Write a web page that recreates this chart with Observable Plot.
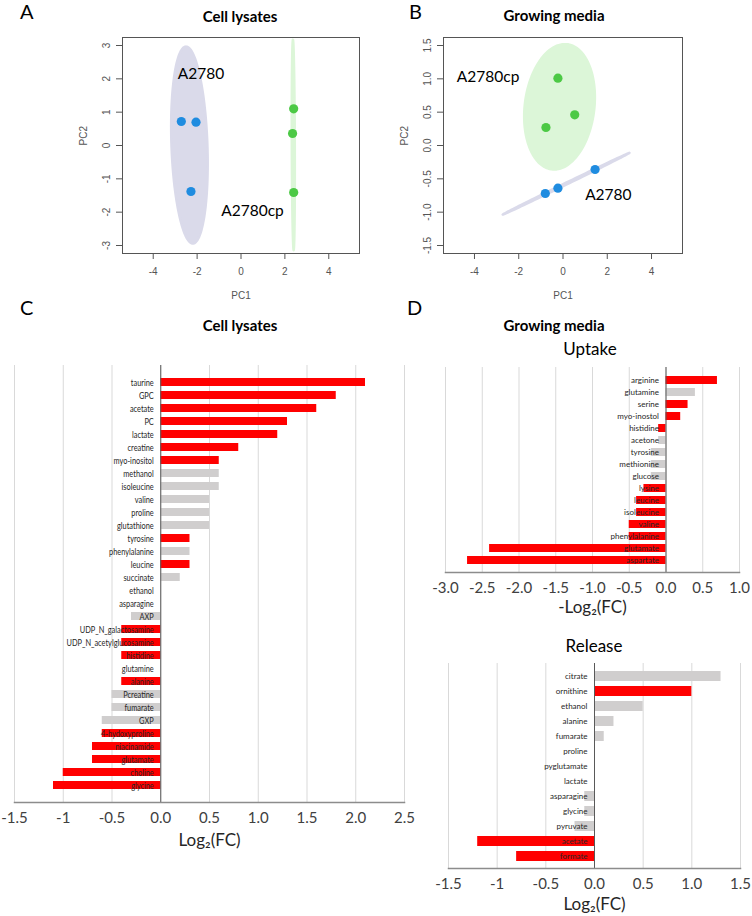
<!DOCTYPE html>
<html>
<head>
<meta charset="utf-8">
<script src="https://cdn.jsdelivr.net/npm/d3@7"></script>
<script src="https://cdn.jsdelivr.net/npm/@observablehq/plot@0.6"></script>
<style>
  html, body { margin: 0; padding: 0; background: white; }
  #fig { position: relative; width: 752px; height: 916px; background: white; overflow: hidden; }
  .abs { position: absolute; }
  .lbl { position: absolute; white-space: nowrap; font-family: Lato, "Open Sans", sans-serif; color: #000; }
</style>
</head>
<body>
<div id="fig"></div>
<script>
// ---------------- DATA ----------------
// Panel A: PCA of cell lysates
const pcaAGroup = ["A2780", "A2780", "A2780", "A2780cp", "A2780cp", "A2780cp"];
const pcaAPC1 = [-2.72, -2.05, -2.28, 2.40, 2.35, 2.40];
const pcaAPC2 = [0.72, 0.70, -1.38, 1.10, 0.36, -1.41];
const pcaALabelText = ["A2780", "A2780cp"];
const pcaALabelPC1 = [-2.88, -0.90];
const pcaALabelPC2 = [2.13, -1.98];
const pcaAXTicks = [-4, -2, 0, 2, 4];
const pcaAXTickLabels = ["-4", "-2", "0", "2", "4"];
const pcaAYTicks = [-3, -2, -1, 0, 1, 2, 3];
const pcaAYTickLabels = ["-3", "-2", "-1", "0", "1", "2", "3"];

// Panel B: PCA of growing media
const pcaBGroup = ["A2780", "A2780", "A2780", "A2780cp", "A2780cp", "A2780cp"];
const pcaBPC1 = [1.45, -0.23, -0.80, -0.23, 0.53, -0.77];
const pcaBPC2 = [-0.36, -0.64, -0.72, 1.01, 0.46, 0.27];
const pcaBLabelText = ["A2780cp", "A2780"];
const pcaBLabelPC1 = [-4.80, 1.00];
const pcaBLabelPC2 = [1.02, -0.74];
const pcaBXTicks = [-4, -2, 0, 2, 4];
const pcaBXTickLabels = ["-4", "-2", "0", "2", "4"];
const pcaBYTicks = [-1.5, -1.0, -0.5, 0.0, 0.5, 1.0, 1.5];
const pcaBYTickLabels = ["-1.5", "-1.0", "-0.5", "0.0", "0.5", "1.0", "1.5"];

// Panel C: cell lysates log2 fold change
const cNames = ["taurine", "GPC", "acetate", "PC", "lactate", "creatine", "myo-inositol", "methanol", "isoleucine", "valine", "proline", "glutathione", "tyrosine", "phenylalanine", "leucine", "succinate", "ethanol", "asparagine", "AXP", "UDP_N_galactosamine", "UDP_N_acetylglucosamine", "histidine", "glutamine", "alanine", "Pcreatine", "fumarate", "GXP", "4-hydoxyproline", "niacinamide", "glutamate", "choline", "glycine"];
const cValues = [2.1, 1.8, 1.6, 1.3, 1.2, 0.8, 0.6, 0.6, 0.6, 0.5, 0.5, 0.5, 0.3, 0.3, 0.3, 0.2, 0, 0, -0.3, -0.4, -0.4, -0.4, 0, -0.4, -0.5, -0.5, -0.6, -0.6, -0.7, -0.7, -1.0, -1.1];
const cSignificant = [1, 1, 1, 1, 1, 1, 1, 0, 0, 0, 0, 0, 1, 0, 1, 0, 0, 0, 0, 1, 1, 1, 0, 1, 0, 0, 0, 1, 1, 1, 1, 1];
const cTicks = [-1.5, -1, -0.5, 0, 0.5, 1, 1.5, 2, 2.5];
const cTickLabels = ["-1.5", "-1", "-0.5", "0.0", "0.5", "1.0", "1.5", "2.0", "2.5"];

// Panel D: growing media - uptake
const uNames = ["arginine", "glutamine", "serine", "myo-inostol", "histidine", "acetone", "tyrosine", "methionine", "glucose", "lysine", "leucine", "isoleucine", "valine", "phenylalanine", "glutamate", "aspartate"];
const uValues = [0.7, 0.4, 0.3, 0.2, -0.1, -0.1, -0.2, -0.2, -0.2, -0.3, -0.4, -0.4, -0.5, -0.5, -2.4, -2.7];
const uSignificant = [1, 0, 1, 1, 1, 0, 0, 0, 0, 1, 1, 1, 1, 1, 1, 1];
const uTicks = [-3, -2.5, -2, -1.5, -1, -0.5, 0, 0.5, 1];
const uTickLabels = ["-3.0", "-2.5", "-2.0", "-1.5", "-1.0", "-0.5", "0.0", "0.5", "1.0"];

// Panel D: growing media - release
const rNames = ["citrate", "ornithine", "ethanol", "alanine", "fumarate", "proline", "pyglutamate", "lactate", "asparagine", "glycine", "pyruvate", "acetate", "formate"];
const rValues = [1.3, 1.0, 0.5, 0.2, 0.1, 0, 0, 0, -0.1, -0.1, -0.2, -1.2, -0.8];
const rSignificant = [0, 1, 0, 0, 0, 0, 0, 0, 0, 0, 0, 1, 1];
const rTicks = [-1.5, -1, -0.5, 0, 0.5, 1, 1.5];
const rTickLabels = ["-1.5", "-1", "-0.5", "0.0", "0.5", "1.0", "1.5"];

// ---------------- HELPERS ----------------
const fig = document.getElementById("fig");
const groupColor = {domain: ["A2780", "A2780cp"], range: ["#1f8ce0", "#4cc945"]};
const ellipseFill = {"A2780": "#dadaea", "A2780cp": "#dcf6d8"};
const barColor = {domain: [1, 0], range: ["#ff0000", "#d0cece"]};

function place(node, left, top) {
  const wrap = document.createElement("div");
  wrap.className = "abs";
  wrap.style.left = left + "px";
  wrap.style.top = top + "px";
  wrap.appendChild(node);
  fig.appendChild(wrap);
}

function textLabel(text, x, baseline, size, weight, anchor) {
  const d = document.createElement("div");
  d.className = "lbl";
  d.textContent = text;
  d.style.fontSize = size + "px";
  d.style.lineHeight = size + "px";
  d.style.fontWeight = weight || 400;
  d.style.top = (baseline - 0.887 * size) + "px";
  d.style.left = x + "px";
  if (anchor === "middle") d.style.transform = "translateX(-50%)";
  fig.appendChild(d);
}

// horizontally condense the texts of one text mark (keeps each anchor point fixed)
function condense(svg, groupIndex, sx) {
  const groups = svg.querySelectorAll('g[aria-label="text"]');
  const g = groups[groupIndex];
  if (!g) return;
  g.querySelectorAll("text").forEach(t => {
    const tr = t.getAttribute("transform");
    if (tr && /translate/.test(tr)) {
      t.setAttribute("transform", tr + ` scale(${sx},1)`);
    } else {
      const x = +(t.getAttribute("x") || 0), y = +(t.getAttribute("y") || 0);
      t.removeAttribute("x"); t.removeAttribute("y");
      t.setAttribute("transform", `translate(${x},${y}) scale(${sx},1)` + (tr ? " " + tr : ""));
    }
  });
}

// 95% confidence ellipse from sample covariance of the group's points
function confEllipse(xs, ys, group) {
  const k = Math.sqrt(5.991);
  const mx = d3.mean(xs), my = d3.mean(ys);
  const n = xs.length;
  const sxx = d3.sum(xs, x => (x - mx) ** 2) / (n - 1);
  const syy = d3.sum(ys, y => (y - my) ** 2) / (n - 1);
  const sxy = d3.sum(xs.map((x, i) => (x - mx) * (ys[i] - my))) / (n - 1);
  const tr = sxx + syy, det = sxx * syy - sxy * sxy;
  const disc = Math.sqrt(Math.max(0, tr * tr / 4 - det));
  const l1 = tr / 2 + disc, l2 = Math.max(0, tr / 2 - disc);
  const th = 0.5 * Math.atan2(2 * sxy, sxx - syy);
  const a = k * Math.sqrt(l1), b = k * Math.sqrt(l2);
  return d3.range(0, 121).map(j => {
    const t = (j / 120) * 2 * Math.PI;
    return {
      group,
      x: mx + a * Math.cos(t) * Math.cos(th) - b * Math.sin(t) * Math.sin(th),
      y: my + a * Math.cos(t) * Math.sin(th) + b * Math.sin(t) * Math.cos(th)
    };
  });
}

function pcaPlot(opts) {
  const {groups, pc1, pc2, labelText, labelPC1, labelPC2, xTicks, xTickLabels, yTicks, yTickLabels, xDomain, yDomain, marginLeft, marginRight} = opts;
  const pts = groups.map((g, i) => ({group: g, pc1: pc1[i], pc2: pc2[i]}));
  const groupNames = ["A2780", "A2780cp"];
  const ellipses = groupNames.map(g => {
    const sel = pts.filter(p => p.group === g);
    return confEllipse(sel.map(p => p.pc1), sel.map(p => p.pc2), g);
  });
  const labels = labelText.map((t, i) => ({t, pc1: labelPC1[i], pc2: labelPC2[i]}));
  return Plot.plot({
    width: 376, height: 310,
    marginLeft, marginRight, marginTop: 37, marginBottom: 57,
    style: {background: "transparent", fontFamily: "'Liberation Sans', Arial, sans-serif", fontSize: "10px", color: "#555", overflow: "visible"},
    x: {domain: xDomain, label: null},
    y: {domain: yDomain, label: null},
    color: groupColor,
    marks: [
      ...ellipses.map(e => Plot.line(e, {x: "x", y: "y", fill: ellipseFill[e[0].group], stroke: ellipseFill[e[0].group], strokeWidth: 2.5})),
      Plot.dot(pts, {x: "pc1", y: "pc2", r: 4.6, fill: "group", stroke: null}),
      Plot.text(labels, {x: "pc1", y: "pc2", text: "t", textAnchor: "start", fontSize: 15.5, fontFamily: "Lato, sans-serif", fill: "#000"}),
      Plot.frame({stroke: "#555"}),
      Plot.axisX({ticks: xTicks, tickFormat: (d, i) => xTickLabels[i], tickSize: 6, tickPadding: 8, color: "#555", label: null}),
      Plot.axisY({ticks: yTicks, tickFormat: (d, i) => yTickLabels[i], tickSize: 6, tickPadding: 7, tickRotate: -90, color: "#555", label: null}),
      Plot.text(["PC1"], {frameAnchor: "bottom", lineAnchor: "middle", dy: 42, fill: "#555"}),
      Plot.text(["PC2"], {frameAnchor: "left", lineAnchor: "middle", dx: -39, rotate: -90, fill: "#555"})
    ]
  });
}

function barPlot(opts) {
  const {names, values, sig, ticks, tickLabels, domain, width, height, marginLeft, marginRight, marginTop, marginBottom, labelSize, labelScale, title, titleDy} = opts;
  const data = names.map((name, i) => ({name, value: values[i], sig: sig[i]}));
  const svg = Plot.plot({
    width, height, marginLeft, marginRight, marginTop, marginBottom,
    style: {background: "transparent", fontFamily: "Lato, sans-serif", fontSize: "15px", color: "#404040", overflow: "visible"},
    x: {domain, label: null},
    y: {domain: names, paddingInner: 0.35, paddingOuter: 0.175, axis: null, label: null},
    color: barColor,
    marks: [
      Plot.ruleX(ticks, {stroke: "#d9d9d9"}),
      Plot.barX(data, {x: "value", y: "name", fill: "sig"}),
      Plot.ruleX([0], {stroke: "#595959"}),
      Plot.text(data, {x: 0, y: "name", text: "name", textAnchor: "end", dx: -7, fontSize: labelSize, fontFamily: "Lato, sans-serif", fill: "#262626"}),
      Plot.frame({anchor: "bottom", stroke: "#8c8c8c", strokeWidth: 1.5}),
      Plot.axisX({ticks, tickFormat: (d, i) => tickLabels[i], tickSize: 0, tickPadding: 10, fill: "#404040", label: null}),
      Plot.text([title], {frameAnchor: "bottom", lineAnchor: "middle", dy: titleDy, fontSize: 17, fill: "#262626"})
    ]
  });
  if (labelScale !== 1) condense(svg, 0, labelScale);
  return svg;
}

// ---------------- PANELS ----------------
place(pcaPlot({
  groups: pcaAGroup, pc1: pcaAPC1, pc2: pcaAPC2,
  labelText: pcaALabelText, labelPC1: pcaALabelPC1, labelPC2: pcaALabelPC2,
  xTicks: pcaAXTicks, xTickLabels: pcaAXTickLabels, yTicks: pcaAYTicks, yTickLabels: pcaAYTickLabels,
  xDomain: [-5.4, 5.4], yDomain: [-3.24, 3.24], marginLeft: 122, marginRight: 17
}), 0, 0);

place(pcaPlot({
  groups: pcaBGroup, pc1: pcaBPC1, pc2: pcaBPC2,
  labelText: pcaBLabelText, labelPC1: pcaBLabelPC1, labelPC2: pcaBLabelPC2,
  xTicks: pcaBXTicks, xTickLabels: pcaBXTickLabels, yTicks: pcaBYTicks, yTickLabels: pcaBYTickLabels,
  xDomain: [-5.4, 5.4], yDomain: [-1.62, 1.62], marginLeft: 67, marginRight: 70
}), 376, 0);

place(barPlot({
  names: cNames, values: cValues, sig: cSignificant, ticks: cTicks, tickLabels: cTickLabels,
  domain: [-1.5, 2.5], width: 420, height: 520, marginLeft: 14, marginRight: 16, marginTop: 25, marginBottom: 58,
  labelSize: 10, labelScale: 0.74, title: "Log\u2082(FC)", titleDy: 38
}), 0, 340);

place(barPlot({
  names: uNames, values: uValues, sig: uSignificant, ticks: uTicks, tickLabels: uTickLabels,
  domain: [-3, 1], width: 376, height: 260, marginLeft: 69, marginRight: 13, marginTop: 7, marginBottom: 48,
  labelSize: 8, labelScale: 1, title: "-Log\u2082(FC)", titleDy: 35
}), 376, 360);

place(barPlot({
  names: rNames, values: rValues, sig: rSignificant, ticks: rTicks, tickLabels: rTickLabels,
  domain: [-1.5, 1.5], width: 376, height: 261, marginLeft: 72, marginRight: 12, marginTop: 8, marginBottom: 48,
  labelSize: 8, labelScale: 1, title: "Log\u2082(FC)", titleDy: 36
}), 376, 655);

// ---------------- TITLES & PANEL LETTERS ----------------
textLabel("A", 20, 19, 20, 400);
textLabel("B", 409, 19, 20, 400);
textLabel("C", 20, 315, 20, 400);
textLabel("D", 407, 315, 20, 400);
textLabel("Cell lysates", 240, 22, 15, 700, "middle");
textLabel("Growing media", 554, 21, 15, 700, "middle");
textLabel("Cell lysates", 240, 331, 15, 700, "middle");
textLabel("Growing media", 554, 331, 15, 700, "middle");
textLabel("Uptake", 590, 355, 17, 400, "middle");
textLabel("Release", 594, 652, 17, 400, "middle");
</script>
</body>
</html>
